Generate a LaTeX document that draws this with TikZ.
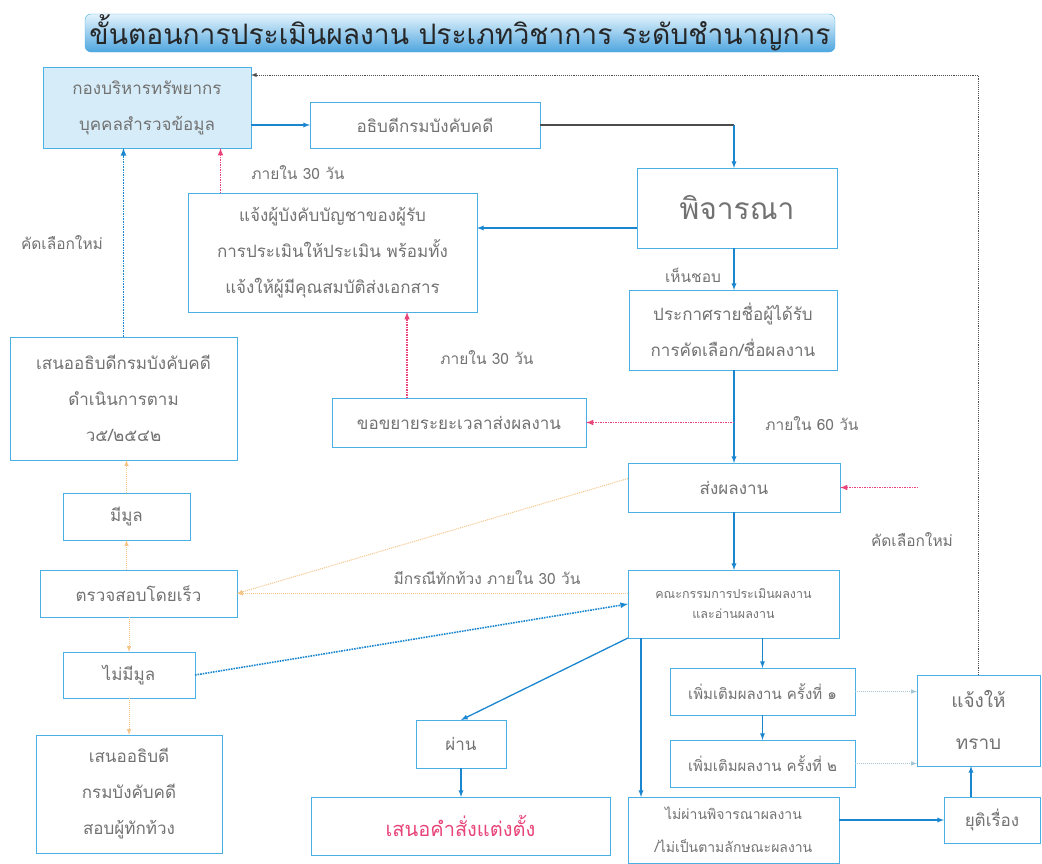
\documentclass[tikz,border=0pt]{standalone}
\usepackage{fontspec}
\setmainfont[Script=Thai]{Loma}
\usetikzlibrary{arrows,calc}
\definecolor{boxb}{HTML}{4AB0E4}
\definecolor{arrb}{HTML}{1A86D0}
\definecolor{txtg}{HTML}{727272}
\definecolor{pinkd}{HTML}{E8457A}
\definecolor{orng}{HTML}{F5C488}
\definecolor{hrfill}{HTML}{D6ECF8}
\definecolor{ttop}{HTML}{E4F3FC}
\definecolor{tbot}{HTML}{4FA6DF}

\begin{document}
\begin{tikzpicture}[x=1pt,y=-1pt,
bx/.style={draw=boxb, line width=1pt, fill=white, text=txtg, align=center, inner sep=0pt, outer sep=0pt, font=\fontsize{17}{36}\selectfont},
bl/.style={draw=arrb, line width=1.3pt, -latex},
bd/.style={draw=arrb, line width=1.6pt, densely dotted, -latex},
pk/.style={draw=pinkd, line width=1.5pt, densely dotted, -latex},
og/.style={draw=orng, line width=1pt, densely dotted, -latex},
gg/.style={draw=gray!60!cyan!60, line width=1pt, densely dotted, -latex},
gd/.style={draw=black!70, line width=0.9pt, densely dotted, -latex},
lb/.style={text=txtg, font=\fontsize{15.5}{18}\selectfont},
]
\useasboundingbox (0,0) rectangle (1042,863);

% title
\node[draw=boxb, rounded corners=6pt, top color=ttop, bottom color=tbot, minimum width=750pt, minimum height=38pt, inner sep=0pt, text=black!85, font=\fontsize{28.2}{31}\selectfont] (title) at (460,33) {ขั้นตอนการประเมินผลงาน ประเภทวิชาการ ระดับชำนาญการ};

% boxes
\node[bx, fill=hrfill, minimum width=208pt, minimum height=81pt] (hr) at (147,107.5) {กองบริหารทรัพยากร\\บุคคลสำรวจข้อมูล};
\node[bx, minimum width=230pt, minimum height=46pt] (dg) at (425,125) {อธิบดีกรมบังคับคดี};
\node[bx, minimum width=200pt, minimum height=80pt, font=\fontsize{30}{34}\selectfont] (cons) at (737,208) {พิจารณา};
\node[bx, minimum width=289pt, minimum height=119pt] (notify) at (332.5,252.5) {แจ้งผู้บังคับบัญชาของผู้รับ\\การประเมินให้ประเมิน พร้อมทั้ง\\แจ้งให้ผู้มีคุณสมบัติส่งเอกสาร};
\node[bx, minimum width=208pt, minimum height=80pt] (announce) at (733,330) {ประกาศรายชื่อผู้ได้รับ\\การคัดเลือก/ชื่อผลงาน};
\node[bx, minimum width=254pt, minimum height=49pt] (extend) at (459,422.5) {ขอขยายระยะเวลาส่งผลงาน};
\node[bx, minimum width=212pt, minimum height=49pt] (send) at (734,487.5) {ส่งผลงาน};
\node[bx, minimum width=211pt, minimum height=68pt, font=\fontsize{12.5}{20}\selectfont] (comm) at (733.5,604) {คณะกรรมการประเมินผลงาน\\และอ่านผลงาน};
\node[bx, minimum width=227pt, minimum height=123pt] (propose) at (123.5,398.5) {เสนออธิบดีกรมบังคับคดี\\ดำเนินการตาม\\ว๕/๒๕๔๒};
\node[bx, minimum width=127pt, minimum height=47pt] (grounds) at (126.5,516.5) {มีมูล};
\node[bx, minimum width=197pt, minimum height=47pt] (check) at (138.5,593.5) {ตรวจสอบโดยเร็ว};
\node[bx, minimum width=132pt, minimum height=46pt] (nogrounds) at (129,675) {ไม่มีมูล};
\node[bx, minimum width=186pt, minimum height=118pt] (investigate) at (129,794) {เสนออธิบดี\\กรมบังคับคดี\\สอบผู้ทักท้วง};
\node[bx, minimum width=90pt, minimum height=48pt] (pass) at (461,744) {ผ่าน};
\node[bx, minimum width=299pt, minimum height=58pt, text=pinkd, font=\fontsize{20}{24}\selectfont] (appoint) at (460.5,826) {เสนอคำสั่งแต่งตั้ง};
\node[bx, minimum width=185pt, minimum height=47pt, font=\fontsize{15}{18}\selectfont] (add1) at (762.5,691.5) {เพิ่มเติมผลงาน ครั้งที่ ๑};
\node[bx, minimum width=185pt, minimum height=47pt, font=\fontsize{15}{18}\selectfont] (add2) at (762.5,763.5) {เพิ่มเติมผลงาน ครั้งที่ ๒};
\node[bx, minimum width=123pt, minimum height=91pt, font=\fontsize{19}{42}\selectfont] (inform) at (978.5,720.5) {แจ้งให้\\ทราบ};
\node[bx, minimum width=96pt, minimum height=46pt] (stop) at (992,820) {ยุติเรื่อง};
\node[bx, minimum width=211pt, minimum height=66pt, font=\fontsize{14}{33}\selectfont] (notpass) at (733.5,830) {ไม่ผ่านพิจารณาผลงาน\\/ไม่เป็นตามลักษณะผลงาน};

% labels
\node[lb] (l30a) at (298,173) {ภายใน 30 วัน};
\node[lb] (lnew) at (62,243) {คัดเลือกใหม่};
\node[lb] (lok) at (693,275) {เห็นชอบ};
\node[lb] (l30b) at (487,358) {ภายใน 30 วัน};
\node[lb] (l60) at (812,424) {ภายใน 60 วัน};
\node[lb] (lobj) at (487,578) {มีกรณีทักท้วง ภายใน 30 วัน};
\node[lb] (lnew2) at (912,540) {คัดเลือกใหม่};
\coordinate (pkin) at (918,487.5);

% connectors
\draw[bl] (hr.east |- dg.west) -- (dg.west);
\draw[draw=black!70, line width=1.2pt] (dg.east) -- (dg.east -| send.north);
\draw[bl] (dg.east -| send.north) -- (send.north |- cons.north);
\draw[bl] ([yshift=-20pt]cons.west) -- ([yshift=-20pt]cons.west -| notify.east);
\draw[pk] ([xshift=-112pt]notify.north) -- ([xshift=-112pt]notify.north |- hr.south);
\draw[bd] (propose.north) -- (propose.north |- hr.south);
\draw[bl] (send.north |- cons.south) -- (send.north |- announce.north);
\draw[bl] (send.north |- announce.south) -- (send.north);
\draw[pk] (extend.east -| send.north) -- (extend.east);
\draw[pk] ([xshift=-52pt]extend.north) -- ([xshift=-52pt]extend.north |- notify.south);
\draw[pk] (pkin) -- (send.east);
\draw[bl] (send.south) -- (send.south |- comm.north);
\draw[og] ([yshift=9pt]send.west) -- (check.east);
\draw[og] (comm.west |- check.east) -- (check.east);
\draw[bd] (nogrounds.east) -- (comm.west);
\draw[og] (grounds.north) -- (grounds.north |- propose.south);
\draw[og] (grounds.south |- check.north) -- (grounds.south);
\draw[og] (nogrounds.north |- check.south) -- (nogrounds.north);
\draw[og] (nogrounds.south) -- (nogrounds.south |- investigate.north);
\draw[bl] (comm.south west) -- (pass.north);
\draw[bl] (pass.south) -- (pass.south |- appoint.north);
\draw[bl] ([xshift=13pt]comm.south west) -- ([xshift=13pt]comm.south west |- notpass.north);
\draw[bl] (add1.north |- comm.south) -- (add1.north);
\draw[bl] (add1.south) -- (add2.north);
\draw[gg] (add1.east) -- (add1.east -| inform.west);
\draw[gg] (add2.east) -- (add2.east -| inform.west);
\draw[bl] (stop.west -| notpass.east) -- (stop.west);
\draw[bl] ([xshift=-21pt]stop.north) -- ([xshift=-21pt]stop.north |- inform.south);
\draw[gd] (inform.north) |- ([yshift=-8pt]hr.north east);
\end{tikzpicture}
\end{document}
